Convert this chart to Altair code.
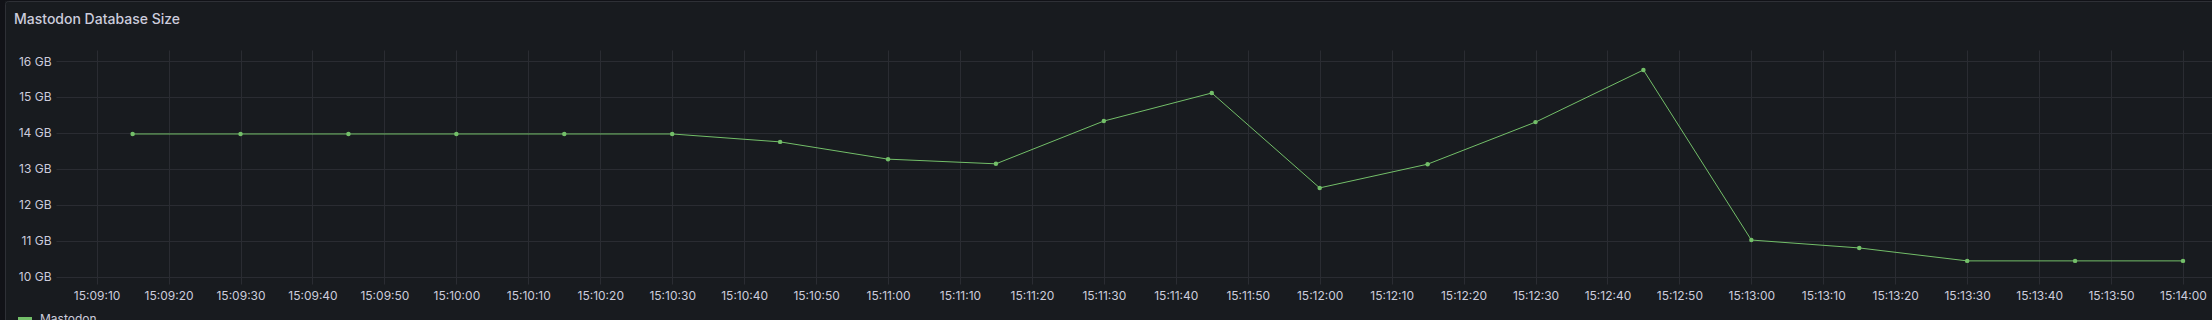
import altair as alt
import pandas as pd

# ---- data ----
times = [
    "15:09:15", "15:09:30", "15:09:45", "15:10:00", "15:10:15",
    "15:10:30", "15:10:45", "15:11:00", "15:11:15", "15:11:30",
    "15:11:45", "15:12:00", "15:12:15", "15:12:30", "15:12:45",
    "15:13:00", "15:13:15", "15:13:30", "15:13:45", "15:14:00",
]
size_gb = [
    13.97, 13.97, 13.97, 13.97, 13.97,
    13.97, 13.75, 13.27, 13.14, 14.33,
    15.11, 12.47, 13.13, 14.30, 15.75,
    11.02, 10.80, 10.44, 10.44, 10.44,
]
x_tick_labels = [
    "15:09:10", "15:09:20", "15:09:30", "15:09:40", "15:09:50",
    "15:10:00", "15:10:10", "15:10:20", "15:10:30", "15:10:40", "15:10:50",
    "15:11:00", "15:11:10", "15:11:20", "15:11:30", "15:11:40", "15:11:50",
    "15:12:00", "15:12:10", "15:12:20", "15:12:30", "15:12:40", "15:12:50",
    "15:13:00", "15:13:10", "15:13:20", "15:13:30", "15:13:40", "15:13:50",
    "15:14:00",
]
x_range = ["15:09:04.35", "15:14:04.03"]
y_ticks = [10, 11, 12, 13, 14, 15, 16]
series_name = "Mastodon"
title_text = "Mastodon Database Size"


def to_sec(t):
    h, m, s = t.split(":")
    return int(h) * 3600 + int(m) * 60 + float(s)


df = pd.DataFrame({
    "t": [to_sec(t) for t in times],
    "size": size_gb,
    "series": [series_name] * len(times),
})
one = pd.DataFrame({"k": [0]})

BG = "#181b1f"
OUTER = "#111217"
BORDER = "#2e3036"
GRID = "#2a2c32"
TEXT = "#ccccdc"
GREEN = "#73BF69"
FONT = "Inter"

W, H = 2156, 234

x_enc = alt.X(
    "t:Q",
    scale=alt.Scale(domain=[to_sec(v) for v in x_range], nice=False, zero=False),
    axis=alt.Axis(
        title=None, values=[to_sec(v) for v in x_tick_labels],
        labelExpr=("format(floor(datum.value/3600),'02d') + ':' + "
                   "format(floor((datum.value%3600)/60),'02d') + ':' + "
                   "format(round(datum.value%60),'02d')"),
        labelFlush=False, labelOverlap=False, ticks=False, domain=False,
        grid=True, gridColor=GRID, gridWidth=1,
        labelColor=TEXT, labelFont=FONT, labelFontSize=12, labelPadding=6,
    ),
)
y_enc = alt.Y(
    "size:Q",
    scale=alt.Scale(domain=[9.797, 16.306], nice=False, zero=False),
    axis=alt.Axis(
        title=None, values=y_ticks, labelExpr="datum.value + ' GB'",
        ticks=False, domain=False, grid=True, gridColor=GRID, gridWidth=1,
        labelColor=TEXT, labelFont=FONT, labelFontSize=12, labelPadding=5,
    ),
)

line = alt.Chart(df).mark_line(strokeWidth=1).encode(
    x=x_enc, y=y_enc,
    color=alt.Color(
        "series:N", scale=alt.Scale(range=[GREEN]),
        legend=alt.Legend(
            orient="none", legendX=-40, legendY=260, title=None,
            symbolType="stroke", symbolStrokeWidth=4, symbolSize=196,
            labelColor=TEXT, labelFont=FONT, labelFontSize=12, labelOffset=6,
            padding=0,
        ),
    ),
)
points = alt.Chart(df).mark_circle(size=20, opacity=1, color=GREEN).encode(x=x_enc, y=y_enc)

left_strip = alt.Chart(one).mark_rect(color=OUTER).encode(
    x=alt.value(-56), x2=alt.value(-51), y=alt.value(-50), y2=alt.value(270)
)
top_strip = alt.Chart(one).mark_rect(color=OUTER).encode(
    x=alt.value(-56), x2=alt.value(W), y=alt.value(-50), y2=alt.value(-49)
)
border = alt.Chart(one).mark_rect(
    fill="transparent", stroke=BORDER, strokeWidth=1, cornerRadius=3
).encode(
    x=alt.value(-50.5), x2=alt.value(W + 20), y=alt.value(-48.5), y2=alt.value(300)
)
title = alt.Chart(one).mark_text(
    text=title_text, align="left", baseline="alphabetic",
    font=FONT, fontSize=14, fontWeight=500, color=TEXT,
).encode(x=alt.value(-42), y=alt.value(-26))

chart = alt.layer(left_strip, top_strip, border, title, line, points).properties(
    width=W, height=H,
    padding={"left": 56, "top": 50, "right": 0, "bottom": 36},
    autosize=alt.AutoSizeParams(type="none"),
    background=BG,
).configure_view(strokeWidth=0)

chart.save("out.html", embed_options={"renderer": "svg", "actions": False})
